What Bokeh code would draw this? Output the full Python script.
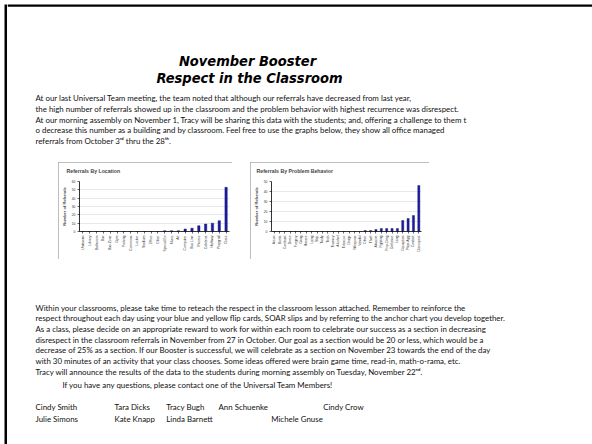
import math
from bokeh.plotting import figure
from bokeh.layouts import column, row
from bokeh.models import Range1d, FactorRange, FixedTicker
from bokeh.core.properties import value
from bokeh.embed import file_html
from bokeh.resources import INLINE

# ---------------- data ----------------
title_lines = ["November Booster", "Respect in the Classroom"]
intro_lines = [
    "At our last Universal Team meeting, the team noted that although our referrals have decreased from last year,",
    "the high number of referrals showed up in the classroom and the problem behavior with highest recurrence was disrespect.",
    "At our morning assembly on November 1, Tracy will be sharing this data with the students; and, offering a challenge to them t",
    "o decrease this number as a building and by classroom. Feel free to use the graphs below, they show all office managed",
    "referrals from October 3\u02b3\u1d48 thru the 28\u1d57\u02b0.",
]
body_lines = [
    "Within your classrooms, please take time to reteach the respect in the classroom lesson attached.  Remember to reinforce the",
    "respect throughout each day using your blue and yellow flip cards, SOAR slips and by referring to the anchor chart you develop together.",
    "As a class, please decide on an appropriate reward to work for within each room to celebrate our success as a section in decreasing",
    "disrespect in the classroom referrals in November from 27 in October.  Our goal as a section would be 20 or less, which would be a",
    "decrease of 25% as a section.   If our Booster is successful, we will celebrate as a section on November 23 towards the end of the day",
    "with 30 minutes of an activity that your class chooses.  Some ideas offered were brain game time, read-in, math-o-rama, etc.",
    "Tracy will announce the results of the data to the students during morning assembly on Tuesday, November 22\u207f\u1d48.",
]
closing_line = "If you have any questions, please contact one of the Universal Team Members!"
names_row1 = ["Cindy Smith", "Tara Dicks", "Tracy Bugh", "Ann Schuenke", "Cindy Crow"]
names_row2 = ["Julie Simons", "Kate Knapp", "Linda Barnett", "Michele Gnuse"]

loc_names = ["Unknown", "Library", "Bathroom", "Bus", "Bus Zone", "Gym", "Parking",
             "Commons", "Locker", "Stadium", "Office", "Other", "Special Ev",
             "Music", "Art", "Computer", "Bus Line", "Recess", "Cafeteria",
             "Hallway", "Playgrnd", "Class"]
loc_counts = [0, 0, 0, 0, 0, 0, 0, 0, 0, 0, 0, 0, 1, 1, 1, 3, 4, 7, 9, 10, 13, 53]

beh_names = ["Arson", "Bomb", "Combust", "Dress", "Forgery", "Gang", "Harass",
             "Lying", "Skip", "Tardy", "Tech", "Truancy", "Alcohol", "Tobacco",
             "Drugs", "Weapons", "Vandal", "Other", "Theft", "Abusive",
             "Fighting", "Prop Dmg", "Defiance", "Lang", "Disruption",
             "Phys Agg", "Contact", "Disrespect"]
beh_counts = [0, 0, 0, 0, 0, 0, 0, 0, 0, 0, 0, 0, 0, 0, 0, 0, 0,
              1, 1, 2, 3, 3, 3, 3, 11, 13, 16, 46]

BODY_FONT = value("Lato")
BODY_SIZE = "7.9px"
TITLE_FONT = value("DejaVu Sans Condensed")
BAR_COLOR = "#1c1ca0"


def blank(w, h, x0, x1, y0, y1):
    p = figure(width=w, height=h, x_range=Range1d(x0, x1), y_range=Range1d(y1, y0),
               x_axis_location=None, y_axis_location=None, min_border=0,
               output_backend="svg", toolbar_location=None)
    p.grid.visible = False
    p.outline_line_color = None
    return p


# ---------------- left border strip (full height) ----------------
strip = blank(7, 444, 0, 7, 0, 444)
strip.quad(left=[4], right=[7], top=[4], bottom=[444], fill_color="black", line_color=None)

# ---------------- top text block ----------------
top = blank(585, 162, 7, 592, 0, 162)
top.quad(left=[7], right=[592], top=[4], bottom=[6.2], fill_color="black", line_color=None)
top.text(x=[247, 249], y=[60, 77], text=title_lines, text_align="center",
         text_baseline="middle", text_font=TITLE_FONT, text_font_style="bold italic",
         text_font_size="14.5px", text_color="black")
top.text(x=[35] * len(intro_lines), y=[97.7 + 10.65 * i for i in range(len(intro_lines))],
         text=intro_lines, text_align="left", text_baseline="middle",
         text_font=BODY_FONT, text_font_size=BODY_SIZE, text_color="#111111")


# ---------------- charts ----------------
def bar_chart(title, names, counts, w, ymax, ml, mr, mt, mb, bw):
    p = figure(width=w, height=97, x_range=FactorRange(factors=names),
               y_range=Range1d(0, ymax), min_border_left=ml, min_border_right=mr,
               min_border_top=mt, min_border_bottom=mb, title=title,
               output_backend="svg", toolbar_location=None,
               styles={"outline": "1px solid #a8a8a8", "outline-offset": "-1px"})
    p.vbar(x=names, top=counts, width=bw, fill_color=BAR_COLOR, line_color="#101070",
           line_width=0.4)
    p.title.text_font = "Liberation Sans"
    p.title.text_font_size = "5.2px"
    p.title.text_font_style = "bold"
    p.title.align = "left"
    p.title.vertical_align = "top"
    p.title.offset = -(ml - 2)
    p.title.standoff = 11
    p.outline_line_color = None
    p.xgrid.visible = False
    p.ygrid.grid_line_color = "#d8d8d8"
    p.ygrid.grid_line_width = 0.6
    p.yaxis.ticker = FixedTicker(ticks=list(range(0, ymax + 1, 10)))
    p.yaxis.axis_label = "Number of Referrals"
    p.yaxis.axis_label_text_font = "Liberation Sans"
    p.yaxis.axis_label_text_font_size = "4px"
    p.yaxis.axis_label_text_font_style = "bold"
    p.yaxis.axis_label_standoff = 2
    for ax in (p.xaxis, p.yaxis):
        ax.major_label_text_font = "Liberation Sans"
        ax.major_label_text_font_size = "3.4px"
        ax.major_label_text_color = "#333333"
        ax.major_label_standoff = 2
        ax.major_tick_out = 2
        ax.major_tick_in = 0
        ax.minor_tick_out = 0
        ax.minor_tick_in = 0
        ax.axis_line_color = "black"
        ax.axis_line_width = 0.8
        ax.major_tick_line_width = 0.6
    p.xaxis.major_label_orientation = math.pi / 2
    return p


chart1 = bar_chart("Referrals By Location", loc_names, loc_counts, 174, 60,
                   15, 3, 16, 21, 0.35)
chart2 = bar_chart("Referrals By Problem Behavior", beh_names, beh_counts, 179, 50,
                   17, 8, 17, 28, 0.4)

left_pad = blank(51, 97, 7, 58, 162, 259)
gap = blank(18, 97, 232, 250, 162, 259)
right_pad = blank(163, 97, 429, 592, 162, 259)

# ---------------- bottom text block ----------------
bottom = blank(585, 185, 7, 592, 259, 444)
body_y = [307.3 + 10.65 * i for i in range(len(body_lines))]
bottom.text(x=[35] * len(body_lines), y=body_y, text=body_lines, text_align="left",
            text_baseline="middle", text_font=BODY_FONT, text_font_size=BODY_SIZE,
            text_color="#111111")
bottom.text(x=[62], y=[384.5], text=[closing_line], text_align="left",
            text_baseline="middle", text_font=BODY_FONT, text_font_size=BODY_SIZE,
            text_color="#111111")
bottom.text(x=[35, 114, 165.7, 218, 322.7], y=[406.5] * 5, text=names_row1,
            text_align="left", text_baseline="middle", text_font=BODY_FONT,
            text_font_size=BODY_SIZE, text_color="#111111")
bottom.text(x=[35, 114, 165.7, 270.7], y=[418] * 4, text=names_row2,
            text_align="left", text_baseline="middle", text_font=BODY_FONT,
            text_font_size=BODY_SIZE, text_color="#111111")

page = row(strip,
           column(top, row(left_pad, chart1, gap, chart2, right_pad, spacing=0),
                  bottom, spacing=0),
           spacing=0)

open("out.html", "w").write(file_html(page, INLINE))
